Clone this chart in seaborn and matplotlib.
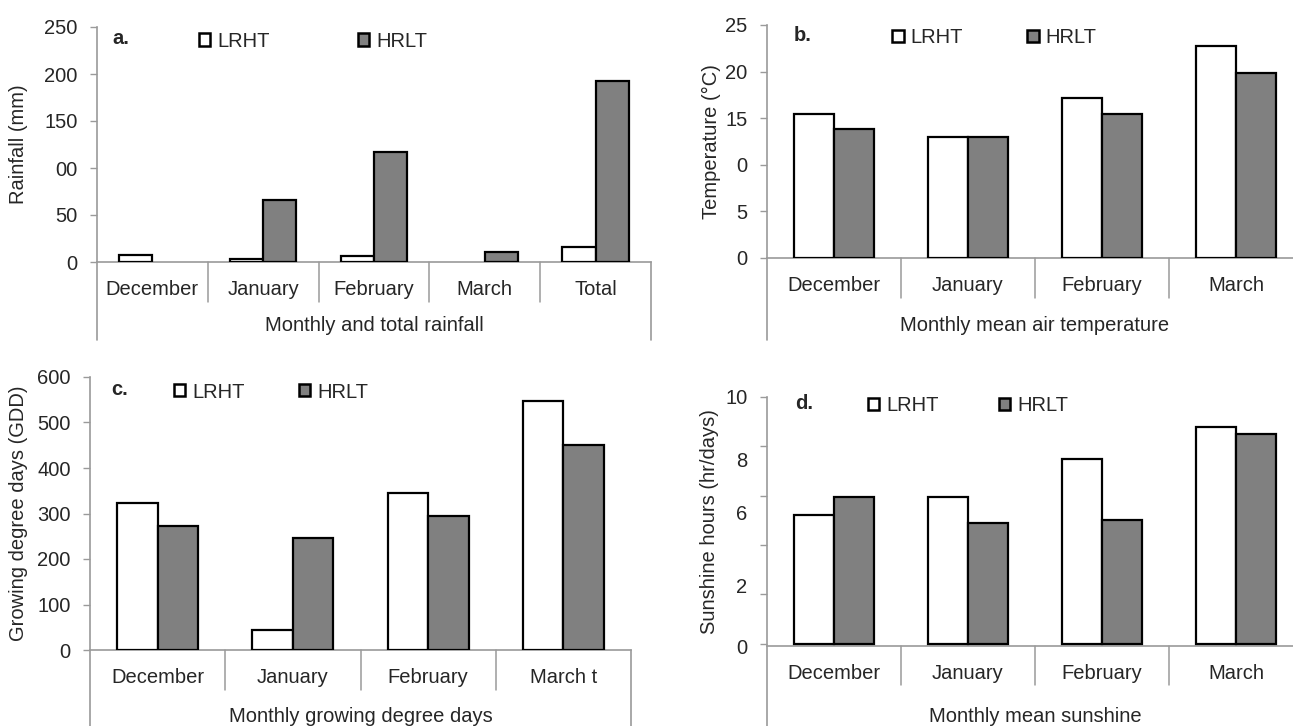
import numpy as np
import pandas as pd
import matplotlib
matplotlib.use("Agg")
import matplotlib.pyplot as plt
from matplotlib.lines import Line2D
from matplotlib.patches import Patch
import seaborn as sns

# ------------------------------------------------------------------
# Data
# ------------------------------------------------------------------
SERIES = ["LRHT", "HRLT"]
PALETTE = {"LRHT": "white", "HRLT": "#808080"}

RAIN_CATS = ["December", "January", "February", "March", "Total"]
RAIN_LRHT = [7, 3, 6, 0, 16]
RAIN_HRLT = [0, 66, 117, 10.5, 193]
RAIN_TICKS = [0, 50, 100, 150, 200, 250]
RAIN_TICKLABELS = ["0", "50", "00", "150", "200", "250"]

TEMP_CATS = ["December", "January", "February", "March"]
TEMP_LRHT = [15.4, 13.0, 17.2, 22.8]
TEMP_HRLT = [13.8, 13.0, 15.4, 19.9]
TEMP_TICKS = [0, 5, 10, 15, 20, 25]
TEMP_TICKLABELS = ["0", "5", "0", "15", "20", "25"]

GDD_CATS = ["December", "January", "February", "March t"]
GDD_LRHT = [323, 44, 346, 547]
GDD_HRLT = [272, 246, 295, 451]
GDD_TICKS = [0, 100, 200, 300, 400, 500, 600]
GDD_TICKLABELS = ["0", "100", "200", "300", "400", "500", "600"]

SUN_CATS = ["December", "January", "February", "March"]
SUN_LRHT = [5.2, 5.95, 7.5, 8.8]
SUN_HRLT = [5.95, 4.9, 5.0, 8.5]
SUN_TICKS = [0, 2, 4, 6, 8, 10]
SUN_LABEL_POS = [-0.1, 2.35, 5.3, 7.45, 10]
SUN_LABELS = ["0", "2", "6", "8", "10"]

FS = 14.5
AXCOL = "#9a9a9a"

sns.set_theme(style="white")
plt.rcParams["font.family"] = ["Liberation Sans", "DejaVu Sans"]


def to_long(cats, lrht, hrlt):
    return pd.DataFrame({
        "cat": cats * 2,
        "series": ["LRHT"] * len(cats) + ["HRLT"] * len(cats),
        "value": list(lrht) + list(hrlt),
    })


def panel(ax, cats, lrht, hrlt, ticks, ticklabels, ylabel, xlabel, letter,
          letter_xy, leg_x, leg_y, colsp, sep_depth, outer_depth, xlab_y,
          ylab_x, right_line=False):
    df = to_long(cats, lrht, hrlt)
    sns.barplot(data=df, x="cat", y="value", hue="series", order=cats,
                hue_order=SERIES, palette=PALETTE, width=0.6, gap=0,
                edgecolor="black", linewidth=1.6, saturation=1,
                legend=False, ax=ax, zorder=3)
    # no outline for empty bars
    for p in ax.patches:
        if p.get_height() == 0:
            p.set_linewidth(0)

    n = len(cats)
    ax.set_xlim(-0.5, n - 0.5)
    ax.set_ylim(ticks[0], ticks[-1])
    ax.set_yticks(ticks, labels=ticklabels)
    ax.tick_params(axis="y", length=5, width=1, color=AXCOL, pad=9,
                   labelsize=FS, left=True)
    ax.tick_params(axis="x", length=0, pad=13, labelsize=FS)

    for s in ["top", "right"]:
        ax.spines[s].set_visible(False)
    for s in ["left", "bottom"]:
        ax.spines[s].set_color(AXCOL)
        ax.spines[s].set_linewidth(1.2)

    tr = ax.get_xaxis_transform()
    for i in range(n - 1):
        ax.add_line(Line2D([i + 0.5, i + 0.5], [0, -sep_depth], transform=tr,
                           color=AXCOL, lw=1.1, clip_on=False))
    ax.add_line(Line2D([-0.5, -0.5], [0, -outer_depth], transform=tr,
                       color=AXCOL, lw=1.2, clip_on=False))
    if right_line:
        ax.add_line(Line2D([n - 0.5, n - 0.5], [0, -outer_depth], transform=tr,
                           color=AXCOL, lw=1.2, clip_on=False))

    ax.set_ylabel(ylabel, fontsize=FS)
    ax.yaxis.set_label_coords(ylab_x, 0.5)
    ax.set_xlabel(xlabel, fontsize=FS)
    ax.xaxis.label.set_va("center")
    ax.xaxis.set_label_coords(0.5, xlab_y)

    ax.text(letter_xy[0], letter_xy[1], letter, transform=ax.transAxes,
            fontsize=FS, fontweight="bold", va="center", ha="left")

    handles = [Patch(facecolor=PALETTE[s], edgecolor="black", linewidth=1.8)
               for s in SERIES]
    ax.legend(handles, SERIES, ncol=2, frameon=False, loc="center left",
              bbox_to_anchor=(leg_x, leg_y), borderpad=0, borderaxespad=0,
              handlelength=0.55, handleheight=0.55, handletextpad=0.35,
              columnspacing=colsp, fontsize=FS)


W, H = 1293, 726
fig = plt.figure(figsize=(W / 100, H / 100), dpi=100)


def add_axes(left, top, right, bottom):
    return fig.add_axes([left / W, 1 - bottom / H, (right - left) / W,
                         (bottom - top) / H])


ax_a = add_axes(97, 27, 651, 262)
ax_b = add_axes(767, 25, 1303, 258)
ax_c = add_axes(90, 377, 631, 650)
ax_d = add_axes(767, 397, 1303, 646)

panel(ax_a, RAIN_CATS, RAIN_LRHT, RAIN_HRLT, RAIN_TICKS, RAIN_TICKLABELS,
      "Rainfall (mm)", "Monthly and total rainfall", "a.", (0.027, 0.95),
      0.184, 0.94, 4.4, 0.17, 0.332, -0.272, -0.124, right_line=True)

panel(ax_b, TEMP_CATS, TEMP_LRHT, TEMP_HRLT, TEMP_TICKS, TEMP_TICKLABELS,
      "Temperature (°C)", "Monthly mean air temperature", "b.", (0.05, 0.955),
      0.234, 0.945, 3.2, 0.172, 0.352, -0.29, -0.086)

panel(ax_c, GDD_CATS, GDD_LRHT, GDD_HRLT, GDD_TICKS, GDD_TICKLABELS,
      "Growing degree days (GDD)", "Monthly growing degree days", "c.",
      (0.04, 0.955), 0.155, 0.945, 2.7, 0.147, 0.32, -0.245, -0.115,
      right_line=True)

panel(ax_d, SUN_CATS, SUN_LRHT, SUN_HRLT, SUN_TICKS, [""] * len(SUN_TICKS),
      "Sunshine hours (hr/days)", "Monthly mean sunshine", "d.",
      (0.052, 0.975), 0.188, 0.965, 3.0, 0.157, 0.35, -0.285, -0.09)
# sunshine labels sit off their tick marks in the source figure
ax_d.yaxis.remove_overlapping_locs = False
ax_d.set_yticks(SUN_LABEL_POS, labels=SUN_LABELS, minor=True)
ax_d.tick_params(axis="y", which="minor", length=0, pad=14, labelsize=FS)

fig.savefig("out.png", dpi=100)
